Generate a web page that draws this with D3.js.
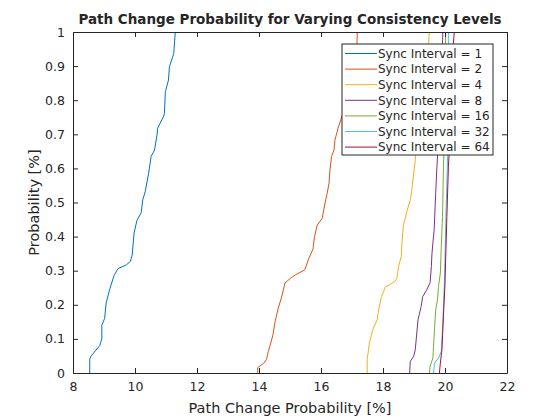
<!DOCTYPE html>
<html><head><meta charset="utf-8">
<script src="https://cdn.jsdelivr.net/npm/d3@7"></script>
<style>body{margin:0;background:#fff}svg{display:block}text{font-family:"DejaVu Sans",sans-serif;fill:#262626}</style>
</head><body>
<svg id="c" width="560" height="420"></svg>
<script>
const seriesNames = ["Sync Interval = 1","Sync Interval = 2","Sync Interval = 4","Sync Interval = 8","Sync Interval = 16","Sync Interval = 32","Sync Interval = 64"];
const colors = ["#0072BD","#D95319","#EDB120","#7E2F8E","#77AC30","#4DBEEE","#A2142F"];
const xTicks = [8,10,12,14,16,18,20,22];
const yTicks = [0,0.1,0.2,0.3,0.4,0.5,0.6,0.7,0.8,0.9,1];

const s1 = [[8.54,0],[8.54,0.041],[8.59,0.05],[8.73,0.066],[8.86,0.08],[8.93,0.10],[8.93,0.14],[9.02,0.16],[9.07,0.205],[9.18,0.244],[9.32,0.285],[9.45,0.306],[9.72,0.317],[9.85,0.327],[9.91,0.347],[9.97,0.41],[10.06,0.447],[10.2,0.47],[10.25,0.508],[10.33,0.532],[10.44,0.586],[10.52,0.635],[10.63,0.654],[10.71,0.698],[10.73,0.718],[10.92,0.752],[10.95,0.762],[10.98,0.825],[11.08,0.859],[11.11,0.898],[11.25,0.937],[11.28,0.976],[11.30,1.0]];
const s2 = [[13.96,0],[13.96,0.016],[14.16,0.029],[14.24,0.039],[14.30,0.063],[14.38,0.088],[14.45,0.112],[14.52,0.151],[14.62,0.19],[14.72,0.22],[14.84,0.264],[15.02,0.278],[15.18,0.288],[15.48,0.303],[15.61,0.337],[15.74,0.363],[15.79,0.40],[15.88,0.434],[16.04,0.454],[16.15,0.508],[16.20,0.527],[16.26,0.557],[16.29,0.596],[16.34,0.635],[16.42,0.654],[16.45,0.683],[16.55,0.718],[16.7,0.76],[16.8,0.80],[16.9,0.85],[17.0,0.90],[17.1,0.94],[17.16,0.965],[17.17,1.0]];
const s3 = [[17.49,0],[17.49,0.039],[17.56,0.088],[17.67,0.127],[17.81,0.156],[17.86,0.185],[17.95,0.224],[18.08,0.252],[18.38,0.268],[18.45,0.278],[18.50,0.312],[18.59,0.342],[18.61,0.381],[18.66,0.434],[18.77,0.473],[18.88,0.508],[18.93,0.537],[19.04,0.625],[19.1,0.68],[19.2,0.75],[19.3,0.82],[19.4,0.9],[19.47,0.96],[19.49,1.0]];
const s4 = [[18.86,0],[18.88,0.034],[18.99,0.049],[19.04,0.068],[19.09,0.117],[19.13,0.156],[19.23,0.195],[19.28,0.224],[19.41,0.244],[19.52,0.265],[19.56,0.312],[19.58,0.351],[19.61,0.381],[19.65,0.42],[19.70,0.527],[19.74,0.605],[19.77,0.654],[19.80,0.70],[19.85,0.80],[19.9,0.9],[19.93,1.0]];
const s5 = [[19.50,0],[19.52,0.02],[19.61,0.044],[19.63,0.078],[19.66,0.127],[19.70,0.185],[19.76,0.215],[19.79,0.254],[19.85,0.293],[19.88,0.371],[19.92,0.459],[19.95,0.605],[19.97,0.654],[20.0,0.8],[20.02,1.0]];
const s6 = [[19.63,0],[19.66,0.029],[19.79,0.044],[19.88,0.063],[19.92,0.127],[19.98,0.264],[20.03,0.459],[20.09,0.654],[20.1,0.8],[20.11,1.0]];
const s7 = [[19.82,0],[19.85,0.029],[19.90,0.068],[19.95,0.166],[20.0,0.264],[20.06,0.459],[20.11,0.605],[20.14,0.654],[20.2,0.8],[20.27,0.965],[20.3,1.0]];
const allSeries = [s1,s2,s3,s4,s5,s6,s7];

const svg = d3.select("#c");
const L=73, R=507, T=32, B=373;
const x = d3.scaleLinear().domain([8,22]).range([L,R]);
const y = d3.scaleLinear().domain([0,1]).range([B,T]);

const g = svg.append("g");
const line = d3.line().x(d=>x(d[0])).y(d=>y(d[1]));
allSeries.forEach((s,i)=>{
  g.append("path").attr("d",line(s)).attr("fill","none").attr("stroke",colors[i]).attr("stroke-width",1);
});

const tl = 5;
const xa = d3.axisBottom(x).tickValues(xTicks).tickSizeInner(-tl).tickSizeOuter(0).tickPadding(9).tickFormat(d3.format("d"));
const ya = d3.axisLeft(y).tickValues(yTicks).tickSizeInner(-tl).tickSizeOuter(0).tickPadding(8).tickFormat(d=>d===0?"0":(d===1?"1":d3.format(".1f")(d)));
const gx = svg.append("g").attr("transform",`translate(0,${B})`).call(xa);
const gy = svg.append("g").attr("transform",`translate(${L},0)`).call(ya);
const gx2 = svg.append("g").attr("transform",`translate(0,${T})`).call(d3.axisTop(x).tickValues(xTicks).tickSizeInner(-tl).tickSizeOuter(0).tickFormat(""));
const gy2 = svg.append("g").attr("transform",`translate(${R},0)`).call(d3.axisRight(y).tickValues(yTicks).tickSizeInner(-tl).tickSizeOuter(0).tickFormat(""));
[gx,gy,gx2,gy2].forEach(a=>{
  a.selectAll("path.domain").attr("stroke","#262626");
  a.selectAll(".tick line").attr("stroke","#262626");
  a.selectAll("text").attr("font-family","DejaVu Sans").attr("font-size",12.5).attr("fill","#262626");
});

svg.append("text").attr("x",(L+R)/2).attr("y",24).attr("text-anchor","middle")
  .attr("font-size",13.5).attr("font-weight","bold").attr("fill","#000").text("Path Change Probability for Varying Consistency Levels");
svg.append("text").attr("x",(L+R)/2).attr("y",413).attr("text-anchor","middle")
  .attr("font-size",14.5).text("Path Change Probability [%]");
svg.append("text").attr("transform",`translate(39,${(T+B)/2}) rotate(-90)`).attr("text-anchor","middle")
  .attr("font-size",14.5).text("Probability [%]");

const lg = svg.append("g");
const lx=342, ly=44, lw=151, lh=111;
lg.append("rect").attr("x",lx).attr("y",ly).attr("width",lw).attr("height",lh).attr("fill","#fff").attr("stroke","#262626").attr("stroke-width",1);
seriesNames.forEach((n,i)=>{
  const yy = ly+9.5+i*15.6;
  lg.append("line").attr("x1",lx+3).attr("x2",lx+35).attr("y1",yy).attr("y2",yy).attr("stroke",colors[i]).attr("stroke-width",1);
  lg.append("text").attr("x",lx+36).attr("y",yy+4.3).attr("font-size",12).text(n);
});
</script>
</body></html>
